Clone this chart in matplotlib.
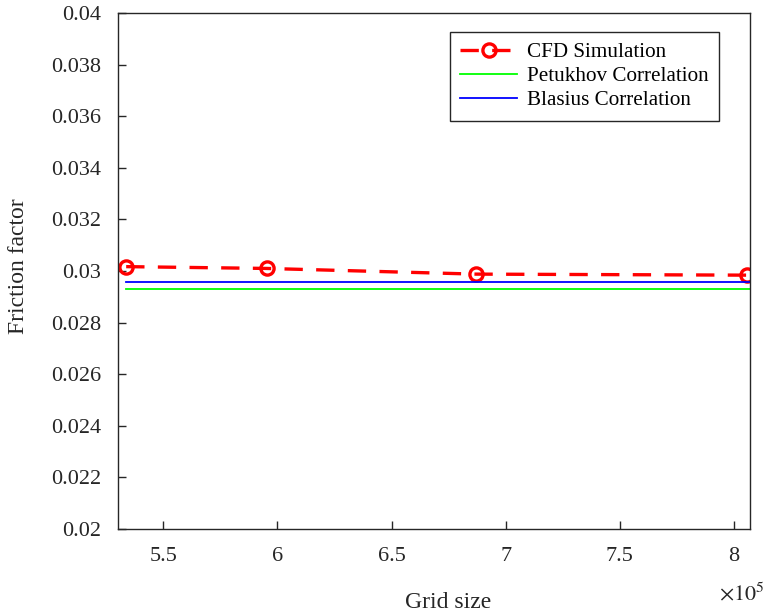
import numpy as np
import matplotlib.pyplot as plt

plt.rcParams['font.family'] = ['Liberation Serif', 'DejaVu Serif']
plt.rcParams['mathtext.fontset'] = 'stix'

# grid sizes (x 1e5) and friction factors
grid_size = [5.337, 5.952, 6.868, 8.057]
f_cfd = [0.03017, 0.03010, 0.02988, 0.02984]
f_petukhov = 0.02930
f_blasius = 0.02959

axcol = '#262626'

fig = plt.figure(figsize=(7.66, 6.14), dpi=100)
ax = fig.add_axes([0.1537, 0.1384, 0.8253, 0.8404])

ax.plot(grid_size, f_cfd, '--o', color='red', lw=2.4, dashes=(5.5, 4),
        mfc='none', mec='red', mew=2.4, ms=9.5, label='CFD Simulation')
ax.plot([grid_size[0], 8.07], [f_petukhov, f_petukhov], color='#00ff00', lw=1.3,
        label='Petukhov Correlation')
ax.plot([grid_size[0], 8.07], [f_blasius, f_blasius], color='blue', lw=1.3,
        label='Blasius Correlation')

ax.set_xlim(5.30, 8.07)
ax.set_ylim(0.02, 0.04)
ax.set_xticks([5.5, 6, 6.5, 7, 7.5, 8])
ax.set_xticklabels(['5.5', '6', '6.5', '7', '7.5', '8'])
yt = np.arange(0.02, 0.0401, 0.002)
ax.set_yticks(yt)
ax.set_yticklabels(['%g' % round(v, 3) for v in yt])

ax.tick_params(direction='in', length=6, width=1, colors=axcol,
               labelsize=16, pad=12)
ax.tick_params(axis='x', pad=13)
for s in ax.spines.values():
    s.set_color(axcol)
    s.set_linewidth(1)

ax.set_xlabel('Grid size', fontsize=17, color=axcol)
ax.xaxis.set_label_coords(0.523, -0.122)
ax.set_ylabel('Friction factor', fontsize=17, color=axcol)
ax.yaxis.set_label_coords(-0.141, 0.51)

fig.text(0.938, 0.022, r'$\times10^5$', fontsize=16, color=axcol)

leg = ax.legend(loc='upper right', bbox_to_anchor=(0.951, 0.963), fontsize=15.2,
                borderaxespad=0, frameon=True, fancybox=False,
                edgecolor=axcol, framealpha=1, handlelength=2.7, borderpad=0.5,
                labelspacing=0.2, handletextpad=0.45)
leg.get_frame().set_linewidth(1)

plt.savefig('out.png', dpi=100)
